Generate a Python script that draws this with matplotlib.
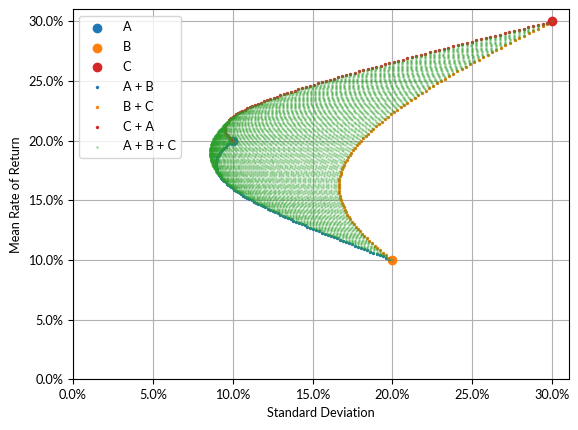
import itertools
import numpy as np
import matplotlib
matplotlib.use("Agg")
import matplotlib.pyplot as plt
from matplotlib.ticker import PercentFormatter

plt.rcParams["font.family"] = ["Lato", "DejaVu Sans"]
plt.rcParams["font.size"] = 9.2

# three assets (uncorrelated)
assets = ["A", "B", "C"]
mean_ret = [0.20, 0.10, 0.30]
std_dev = [0.10, 0.20, 0.30]
corr = [[1.0, 0.0, 0.0],
        [0.0, 1.0, 0.0],
        [0.0, 0.0, 1.0]]
asset_colors = ["tab:blue", "tab:orange", "tab:red"]

pairs = [(0, 1), (1, 2), (2, 0)]
pair_labels = ["A + B", "B + C", "C + A"]
steps = 100  # weights in 1% increments

mu = np.array(mean_ret)
sd = np.array(std_dev)
cov = np.array(corr) * np.outer(sd, sd)


def portfolio(weights):
    w = np.atleast_2d(weights)
    r = w @ mu
    s = np.sqrt(np.einsum("ij,jk,ik->i", w, cov, w))
    return s, r


fig, ax = plt.subplots(figsize=(5.78, 4.30), dpi=100)
fig.subplots_adjust(left=0.1263, right=0.985, bottom=0.118, top=0.978)

for i, name in enumerate(assets):
    ax.scatter(sd[i], mu[i], color=asset_colors[i], label=name)

for (i, j), lab in zip(pairs, pair_labels):
    w = np.zeros((steps + 1, 3))
    w[:, i] = np.arange(steps + 1) / steps
    w[:, j] = 1 - w[:, i]
    s, r = portfolio(w)
    ax.scatter(s, r, s=2, color=asset_colors[i], label=lab)

tri = [(a, b, steps - a - b) for a, b in itertools.product(range(steps + 1), repeat=2)
       if a + b <= steps]
w3 = np.array(tri) / steps
s3, r3 = portfolio(w3)
ax.scatter(s3, r3, s=1, color="tab:green", alpha=0.3, label="A + B + C")

ax.set_xlim(left=0)
ax.set_ylim(bottom=0)
ax.xaxis.set_major_formatter(PercentFormatter(1.0, decimals=1))
ax.yaxis.set_major_formatter(PercentFormatter(1.0, decimals=1))
ax.set_xlabel("Standard Deviation")
ax.set_ylabel("Mean Rate of Return")
ax.grid(True)
ax.set_axisbelow(True)
ax.legend(loc="upper left", labelspacing=0.62, handletextpad=1.0)

fig.savefig("out.png", dpi=100)
